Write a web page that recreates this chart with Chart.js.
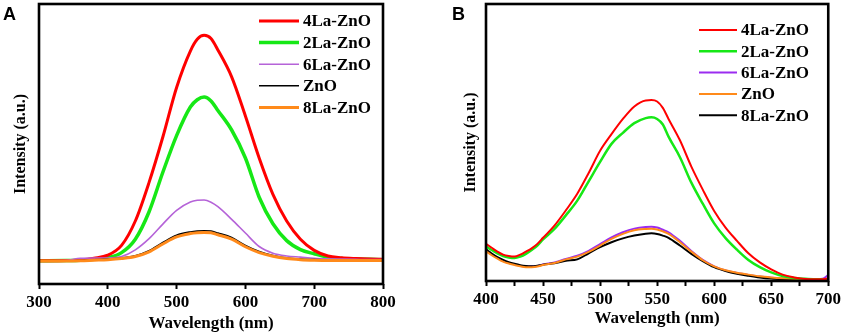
<!DOCTYPE html>
<html>
<head>
<meta charset="utf-8">
<script src="https://cdn.jsdelivr.net/npm/chart.js@4.4.0/dist/chart.umd.min.js"></script>
<style>
  html, body { margin: 0; padding: 0; background: #fff; }
  .wrap { display: flex; width: 844px; height: 335px; }
  canvas { display: block; }
</style>
</head>
<body>
<div class="wrap">
  <canvas id="chartA" width="422" height="335"></canvas>
  <canvas id="chartB" width="422" height="335"></canvas>
</div>
<script>
// ---- panel A data (wavelength nm, intensity a.u.) ----
const wavelengthA = [300, 340, 360, 380, 400, 420, 440, 460, 480, 500, 520, 530, 540, 550, 560, 580, 600, 620, 640, 660, 680, 700, 720, 740, 760, 780, 800];
const la4A = [8.3, 8.4, 8.6, 9.2, 10.3, 13.8, 22.5, 36.3, 52.5, 70.2, 83.2, 87.4, 88.8, 87.7, 83.6, 74, 60, 45, 32, 22.5, 16, 12, 10, 9.4, 9.1, 8.9, 8.8];
const la2A = [8.3, 8.4, 8.5, 8.8, 9.4, 11.2, 16, 25.8, 39.9, 53, 63.2, 65.8, 66.8, 65.4, 62, 55, 45, 31, 21.5, 15.5, 12.3, 10.8, 9.6, 9.1, 8.9, 8.8, 8.7];
const la6A = [8.3, 8.5, 9.2, 9.3, 9.3, 9.8, 12.2, 16.2, 21.4, 26.3, 29.3, 29.9, 30, 29.2, 27.6, 23.1, 18.2, 13.4, 11, 10, 9.6, 9.2, 9, 8.9, 8.8, 8.7, 8.7];
const znoA = [8.3, 8.3, 8.4, 8.6, 8.9, 9.3, 10.1, 11.9, 14.8, 17.4, 18.6, 18.9, 19, 18.9, 18.2, 16.6, 13.8, 11.6, 10.2, 9.3, 8.9, 8.7, 8.6, 8.6, 8.5, 8.5, 8.5];
const la8A = [8.2, 8.2, 8.3, 8.5, 8.7, 9.1, 9.8, 11.5, 14.3, 16.8, 18, 18.3, 18.4, 18.3, 17.6, 16, 13.3, 11.2, 9.9, 9.1, 8.7, 8.5, 8.4, 8.4, 8.4, 8.4, 8.4];
const ticksA = [300, 400, 500, 600, 700, 800];

// ---- panel B data ----
const wavelengthB = [400, 405, 410, 415, 420, 425, 430, 435, 440, 445, 450, 460, 470, 480, 490, 500, 510, 520, 530, 540, 545, 550, 555, 560, 570, 580, 590, 600, 610, 620, 630, 640, 650, 660, 670, 680, 690, 695, 700];
const la4B = [13.4, 12, 10.6, 9.5, 9, 8.8, 9.5, 10.6, 11.8, 13.4, 15.6, 20, 25.5, 31.5, 39, 47, 53, 58.5, 63, 65.2, 65.3, 64.8, 62.5, 58.5, 50.8, 41.3, 33, 25.3, 19.3, 14.5, 10, 6.7, 4.2, 2.3, 1.3, 0.7, 0.6, 0.6, 0.9];
const la2B = [12.4, 11.2, 10, 9, 8.5, 8.3, 8.8, 9.8, 11.2, 12.8, 15, 18.8, 23.7, 29, 36, 43, 49.5, 53.5, 57, 58.8, 59.1, 58.5, 56.5, 52.1, 44.7, 35.5, 27.9, 20.8, 15.5, 11.3, 7.6, 5, 3.1, 1.8, 1.1, 0.8, 0.6, 0.6, 0.6];
const la6B = [10.9, 9.6, 8.4, 7.2, 6.5, 6, 5.5, 5.2, 5.2, 5.4, 6, 6.7, 8, 9.1, 10.9, 13.3, 15.7, 17.6, 18.9, 19.5, 19.6, 19.3, 18.5, 17.6, 14.5, 10.8, 7.6, 5.3, 3.8, 2.9, 2.2, 1.6, 1.2, 0.9, 0.8, 0.7, 0.7, 0.8, 2.2];
const znoB = [10.7, 9.3, 8.1, 7, 6.3, 5.8, 5.3, 5, 5, 5.2, 5.8, 6.5, 7.8, 8.8, 10.5, 12.8, 15.2, 17, 18.3, 18.8, 18.9, 18.6, 17.9, 17, 14, 10.6, 7.5, 5.3, 3.9, 3, 2.3, 1.7, 1.3, 1, 0.8, 0.7, 0.6, 0.6, 0.6];
const la8B = [11.4, 9.9, 8.6, 7.6, 6.8, 6.2, 5.7, 5.4, 5.3, 5.5, 5.9, 6.4, 7.3, 7.8, 10, 12.2, 14, 15.4, 16.4, 17.1, 17.2, 17, 16.4, 15.6, 12.8, 9.8, 7.2, 5, 3.6, 2.6, 1.9, 1.3, 0.9, 0.7, 0.6, 0.5, 0.5, 0.5, 0.5];
const ticksB = [400, 425, 450, 475, 500, 525, 550, 575, 600, 625, 650, 675, 700];

const serif = '"Liberation Serif", "Times New Roman", serif';

function pts(xs, ys) {
  return xs.map((x, i) => ({ x: x, y: ys[i] }));
}

// frame, panel letter and in-plot legend
function decorPlugin(cfg) {
  return {
    id: 'decor',
    afterDatasetsDraw(chart) {
      const ctx = chart.ctx;
      const a = chart.chartArea;
      ctx.save();
      ctx.strokeStyle = '#000';
      ctx.lineWidth = 2.6;
      ctx.strokeRect(a.left, a.top, a.right - a.left, a.bottom - a.top);

      ctx.fillStyle = '#000';
      ctx.font = 'bold 18px "Liberation Sans", Arial, sans-serif';
      ctx.textBaseline = 'alphabetic';
      ctx.textAlign = 'left';
      ctx.fillText(cfg.letter, cfg.letterX, 20);

      ctx.font = 'bold 17px ' + serif;
      ctx.textBaseline = 'middle';
      cfg.items.forEach((idx, i) => {
        const ds = chart.data.datasets[idx];
        const y = cfg.legendY + i * cfg.legendStep;
        ctx.strokeStyle = ds.borderColor;
        ctx.lineWidth = ds.borderWidth;
        ctx.beginPath();
        ctx.moveTo(cfg.lineX1, y);
        ctx.lineTo(cfg.lineX2, y);
        ctx.stroke();
        ctx.fillStyle = '#000';
        ctx.fillText(ds.label, cfg.lineX2 + 4, y + 1);
      });
      ctx.restore();
    }
  };
}

function makeChart(id, opt) {
  new Chart(document.getElementById(id), {
    type: 'line',
    data: { datasets: opt.datasets },
    options: {
      responsive: false,
      animation: false,
      layout: { padding: { top: 4, right: opt.padRight, left: 0, bottom: 0 } },
      plugins: { legend: { display: false }, tooltip: { enabled: false } },
      elements: {
        point: { radius: 0 },
        line: { cubicInterpolationMode: 'monotone' }
      },
      scales: {
        x: {
          type: 'linear',
          min: opt.xMin,
          max: opt.xMax,
          afterBuildTicks: s => { s.ticks = opt.tickValues.map(v => ({ value: v })); },
          ticks: {
            color: '#000',
            padding: 3,
            maxRotation: 0,
            autoSkip: false,
            font: { family: serif, size: 17, weight: 'bold' },
            callback: v => (v % opt.labelEvery === 0 ? String(v) : '')
          },
          grid: { drawOnChartArea: false, color: '#000', tickLength: 5, tickWidth: 2 },
          border: { display: false },
          title: {
            display: true,
            text: 'Wavelength (nm)',
            color: '#000',
            padding: opt.xTitlePad,
            font: { family: serif, size: 17, weight: 'bold' }
          },
          afterFit: s => { s.height = opt.xHeight; }
        },
        y: {
          min: 0,
          max: 100,
          ticks: { display: false },
          grid: { display: false },
          border: { display: false },
          title: {
            display: true,
            text: 'Intensity (a.u.)',
            color: '#000',
            padding: opt.yTitlePad,
            font: { family: serif, size: 16, weight: 'bold' }
          },
          afterFit: s => { s.width = opt.yWidth; }
        }
      }
    },
    plugins: [decorPlugin(opt.decor)]
  });
}

makeChart('chartA', {
  xMin: 300, xMax: 800,
  tickValues: ticksA, labelEvery: 100,
  padRight: 39, xHeight: 51, yWidth: 39,
  xTitlePad: 1.5, yTitlePad: 11,
  datasets: [
    { label: '4La-ZnO', data: pts(wavelengthA, la4A), borderColor: '#ff0000', borderWidth: 3, order: 3 },
    { label: '2La-ZnO', data: pts(wavelengthA, la2A), borderColor: '#16e816', borderWidth: 3.5, order: 4 },
    { label: '6La-ZnO', data: pts(wavelengthA, la6A), borderColor: '#b563d8', borderWidth: 1.6, order: 2 },
    { label: 'ZnO', data: pts(wavelengthA, znoA), borderColor: '#000000', borderWidth: 1.6, order: 1 },
    { label: '8La-ZnO', data: pts(wavelengthA, la8A), borderColor: '#ff8a1a', borderWidth: 3, order: 0 }
  ],
  decor: { letter: 'A', letterX: 3, items: [0, 1, 2, 3, 4], legendY: 21, legendStep: 21.6, lineX1: 259, lineX2: 299 }
});

makeChart('chartB', {
  xMin: 400, xMax: 700,
  tickValues: ticksB, labelEvery: 50,
  padRight: 14, xHeight: 54, yWidth: 64,
  xTitlePad: 6, yTitlePad: 39,
  datasets: [
    { label: '4La-ZnO', data: pts(wavelengthB, la4B), borderColor: '#ff0000', borderWidth: 2, order: 0 },
    { label: '2La-ZnO', data: pts(wavelengthB, la2B), borderColor: '#16e816', borderWidth: 2.5, order: 1 },
    { label: '6La-ZnO', data: pts(wavelengthB, la6B), borderColor: '#9b2cf0', borderWidth: 2, order: 4 },
    { label: 'ZnO', data: pts(wavelengthB, znoB), borderColor: '#ff8a1a', borderWidth: 2, order: 2 },
    { label: '8La-ZnO', data: pts(wavelengthB, la8B), borderColor: '#000000', borderWidth: 2, order: 3 }
  ],
  decor: { letter: 'B', letterX: 30, items: [0, 1, 2, 3, 4], legendY: 30, legendStep: 21.3, lineX1: 277, lineX2: 315 }
});
</script>
</body>
</html>
